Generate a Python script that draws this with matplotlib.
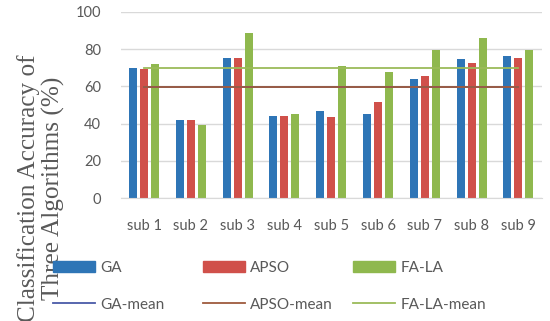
"""Grouped bars of per-subject accuracy for GA, APSO and FA-LA with mean lines."""

import matplotlib

matplotlib.use("Agg")
import matplotlib.pyplot as plt
import numpy as np
from matplotlib.lines import Line2D
from matplotlib.patches import Patch


SUBJECTS = ["sub 1", "sub 2", "sub 3", "sub 4", "sub 5", "sub 6", "sub 7", "sub 8", "sub 9"]
GA = [70.1, 41.8, 75.4, 44.3, 47.0, 45.2, 63.8, 74.6, 76.3]
APSO = [69.4, 41.8, 75.4, 44.3, 43.4, 51.4, 65.6, 72.8, 75.4]
FA_LA = [71.9, 39.2, 88.9, 45.2, 71.0, 67.6, 79.7, 86.0, 79.7]
GA_MEAN = 59.8
APSO_MEAN = 59.9
FA_LA_MEAN = 69.9
Y_TICKS = [0, 20, 40, 60, 80, 100]

BAR_COLORS = ["#2E75B6", "#D0504A", "#8FB84E"]
LINE_COLORS = ["#4A5AA8", "#9E5B3E", "#9BBB59"]
GRID = "#D9D9D9"
TICK_TEXT = "#595959"
TICK_FONT = "Lato"
W, H = 550, 321


fig = plt.figure(figsize=(5.5, 3.21), dpi=100, facecolor="white")
axis = fig.add_axes([0.2195, 0.383, 0.7655, 0.58])

x = np.arange(len(SUBJECTS))
width = 0.17
offset = 0.235
for shift, values, color in zip((-offset, 0, offset), (GA, APSO, FA_LA), BAR_COLORS):
    axis.bar(x + shift, values, width=width, color=color, zorder=2)

for mean, color in zip((GA_MEAN, APSO_MEAN, FA_LA_MEAN), LINE_COLORS):
    axis.plot(x, [mean] * len(x), color=color, linewidth=1.3, zorder=3)

axis.set_xlim(-0.5, len(SUBJECTS) - 0.5)
axis.set_ylim(0, 100)
axis.set_yticks(Y_TICKS)
axis.set_xticks(x)
axis.set_xticklabels(SUBJECTS)
axis.grid(axis="y", color=GRID, linewidth=1.0, zorder=0)
axis.set_axisbelow(True)
for side in ("top", "right", "left"):
    axis.spines[side].set_visible(False)
axis.spines["bottom"].set_color(GRID)
axis.tick_params(length=0, colors=TICK_TEXT, labelsize=10.5)
axis.tick_params(axis="x", pad=15)
axis.tick_params(axis="y", pad=14)
for label in axis.get_xticklabels() + axis.get_yticklabels():
    label.set_fontfamily(TICK_FONT)

fig.text(
    41 / W,
    1 - 188 / H,
    "Classification Accuracy of\nThree Algorithms (%)",
    rotation=90,
    ha="center",
    va="center",
    family="Liberation Serif",
    fontsize=18.2,
    color=TICK_TEXT,
    linespacing=1.1,
)

# Excel legend: three equal-width columns, bars on top row, mean lines below
columns = [
    (53, Patch(color=BAR_COLORS[0], label="GA"),
     Line2D([], [], color=LINE_COLORS[0], linewidth=1.3, label="GA-mean")),
    (203, Patch(color=BAR_COLORS[1], label="APSO"),
     Line2D([], [], color=LINE_COLORS[1], linewidth=1.3, label="APSO-mean")),
    (353, Patch(color=BAR_COLORS[2], label="FA-LA"),
     Line2D([], [], color=LINE_COLORS[2], linewidth=1.3, label="FA-LA-mean")),
]
for left, bar_handle, line_handle in columns:
    fig.legend(
        handles=[bar_handle, line_handle],
        loc="upper left",
        bbox_to_anchor=(left / W, 1 - 261 / H),
        frameon=False,
        borderpad=0,
        borderaxespad=0,
        handlelength=2.75,
        handleheight=0.75,
        handletextpad=0.35,
        labelspacing=1.5,
        prop={"family": TICK_FONT, "size": 11},
        labelcolor=TICK_TEXT,
    )

fig.savefig("out.png", dpi=100, facecolor="white")
